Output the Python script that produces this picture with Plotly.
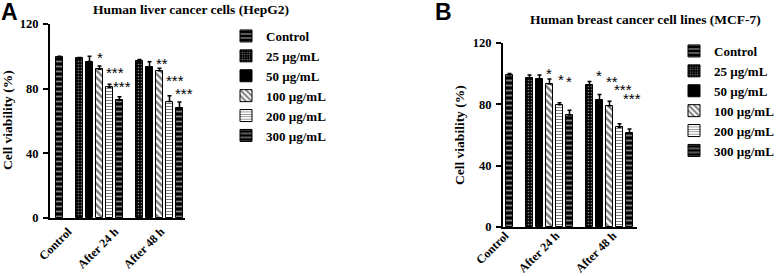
import plotly.graph_objects as go

# ---------------- data ----------------
groups = ["Control", "After 24 h", "After 48 h"]
series = ["Control", "25 µg/mL", "50 µg/mL", "100 µg/mL", "200 µg/mL", "300 µg/mL"]
y_ticks = [0, 40, 80, 120]
# category label anchors (evenly spaced category ticks, in bar-slot units)
label_pos_A = [-1.15, 3.55, 8.15]
label_pos_B = [-2.45, 2.65, 8.35]

# Panel A: HepG2
hepg2_control = 99.3
hepg2_control_err = 0.8
hepg2_24 = [98.7, 96.8, 92.0, 80.8, 73.0]
hepg2_24_err = [0.6, 3.2, 2.0, 2.0, 2.0]
hepg2_48 = [97.0, 93.6, 91.1, 72.0, 68.0]
hepg2_48_err = [1.0, 3.0, 1.5, 3.6, 3.7]
hepg2_stars_24 = ["", "", "*", "***", "***"]
hepg2_stars_24_y = [0, 0, 100.8, 91.5, 82.5]
hepg2_stars_48 = ["", "", "**", "***", "***"]
hepg2_stars_48_y = [0, 0, 97.0, 86.0, 78.0]

# Panel B: MCF-7
mcf7_control = 99.1
mcf7_control_err = 1.0
mcf7_24 = [97.4, 96.4, 93.2, 79.8, 73.0]
mcf7_24_err = [1.8, 2.8, 3.3, 1.3, 3.2]
mcf7_48 = [92.6, 83.0, 79.0, 65.0, 61.5]
mcf7_48_err = [2.3, 3.4, 3.0, 2.4, 2.4]
mcf7_stars_24 = ["", "", "*", "*", "*"]
mcf7_stars_24_y = [0, 0, 101.5, 97.4, 95.9]
mcf7_stars_48 = ["", "*", "**", "***", "***"]
mcf7_stars_48_y = [0, 100.4, 96.5, 90.7, 84.8]

# ---------------- styles ----------------
SERIF = "Liberation Serif"
SANS = "Liberation Sans"
patterns = [
    dict(shape="-", fgcolor="white", bgcolor="black", size=5, solidity=0.35),
    dict(shape=".", fgcolor="white", bgcolor="black", size=3, solidity=0.25),
    None,
    dict(shape="\\", fgcolor="black", bgcolor="white", size=5, solidity=0.5),
    dict(shape="-", fgcolor="black", bgcolor="white", size=3, solidity=0.35),
    dict(shape="-", fgcolor="white", bgcolor="black", size=5, solidity=0.35),
]
bar_colors = ["black", "black", "black", "white", "white", "black"]

W, H = 782, 276
CONTROL_POS = -2
GROUP_START = [0, 6]   # first bar slot of the 24 h and 48 h groups
BAR_W = 0.7


def px_x(p):
    return p / W


def px_y(p):
    return 1 - p / H


fig = go.Figure()


def add_panel(xa, ya, legend, ctrl, ctrl_err, v24, e24, v48, e48):
    fig.add_trace(go.Bar(
        x=[CONTROL_POS], y=[ctrl], width=BAR_W, name=series[0],
        marker=dict(color=bar_colors[0], pattern=patterns[0],
                    line=dict(color="black", width=1)),
        error_y=dict(type="data", symmetric=False, array=[ctrl_err], arrayminus=[0],
                     color="black", thickness=1.5, width=2),
        xaxis=xa, yaxis=ya, legend=legend))
    for i in range(5):
        pos = [GROUP_START[0] + i, GROUP_START[1] + i]
        m = dict(color=bar_colors[i + 1], line=dict(color="black", width=1))
        if patterns[i + 1] is not None:
            m["pattern"] = patterns[i + 1]
        fig.add_trace(go.Bar(
            x=pos, y=[v24[i], v48[i]], width=BAR_W, name=series[i + 1],
            marker=m,
            error_y=dict(type="data", symmetric=False, array=[e24[i], e48[i]],
                         arrayminus=[0, 0], color="black", thickness=1.5, width=2),
            xaxis=xa, yaxis=ya, legend=legend))


add_panel("x", "y", "legend", hepg2_control, hepg2_control_err,
          hepg2_24, hepg2_24_err, hepg2_48, hepg2_48_err)
add_panel("x2", "y2", "legend2", mcf7_control, mcf7_control_err,
          mcf7_24, mcf7_24_err, mcf7_48, mcf7_48_err)

xtickfont = dict(family=SERIF, size=12, color="black", weight="bold")
ytickfont = dict(family=SERIF, size=12.5, color="black", weight="bold")

xcommon = dict(showline=True, linecolor="black", linewidth=2, ticks="",
               tickmode="array", ticktext=groups,
               tickangle=-45, tickfont=xtickfont, showgrid=False, zeroline=False,
               automargin=False)
ycommon = dict(showline=True, linecolor="black", linewidth=2, ticks="outside",
               ticklen=5, tickwidth=2, tickcolor="black", tickmode="array",
               tickvals=y_ticks, range=[0, 120], tickfont=ytickfont,
               ticklabelstandoff=2,
               showgrid=False, zeroline=False, automargin=False)

legfont = dict(family=SERIF, size=13, color="black", weight="bold")
fig.update_layout(
    width=W, height=H, margin=dict(l=0, r=0, t=0, b=0, autoexpand=False),
    paper_bgcolor="white", plot_bgcolor="white",
    barmode="overlay", bargap=0,
    xaxis=dict(domain=[px_x(50), px_x(185)], range=[-2.95, 10.55], anchor="y",
               tickvals=label_pos_A, ticklabelstandoff=0, **xcommon),
    yaxis=dict(domain=[px_y(218), px_y(24)], anchor="x", **ycommon),
    xaxis2=dict(domain=[px_x(503), px_x(637)], range=[-2.65, 10.75], anchor="y2",
                tickvals=label_pos_B, ticklabelstandoff=-5, **xcommon),
    yaxis2=dict(domain=[px_y(227), px_y(43)], anchor="x2", **ycommon),
    legend=dict(x=px_x(226), y=px_y(21), xanchor="left", yanchor="top",
                font=legfont, bgcolor="rgba(0,0,0,0)", entrywidth=100),
    legend2=dict(x=px_x(674), y=px_y(36), xanchor="left", yanchor="top",
                 font=legfont, bgcolor="rgba(0,0,0,0)", entrywidth=100),
    showlegend=True,
)

ann = []
ann.append(dict(text="A", x=0, y=1, xref="paper", yref="paper", xanchor="left", yanchor="top",
                showarrow=False, font=dict(family=SANS, size=23, color="black", weight="bold"),
                xshift=-1, yshift=3))
ann.append(dict(text="B", x=px_x(433), y=1, xref="paper", yref="paper", xanchor="left",
                yanchor="top", showarrow=False, yshift=3,
                font=dict(family=SANS, size=23, color="black", weight="bold")))
ann.append(dict(text="Human liver cancer cells (HepG2)", x=px_x(191), y=px_y(9),
                xref="paper", yref="paper", showarrow=False, xanchor="center", yanchor="middle",
                font=dict(family=SERIF, size=13.5, color="black", weight="bold")))
ann.append(dict(text="Human breast cancer cell lines (MCF-7)", x=px_x(645), y=px_y(20),
                xref="paper", yref="paper", showarrow=False, xanchor="center", yanchor="middle",
                font=dict(family=SERIF, size=13.5, color="black", weight="bold")))
ann.append(dict(text="Cell viability (%)", x=px_x(8), y=px_y(120), xref="paper", yref="paper",
                textangle=-90, showarrow=False, xanchor="center", yanchor="middle",
                font=dict(family=SERIF, size=13.5, color="black", weight="bold")))
ann.append(dict(text="Cell viability (%)", x=px_x(459), y=px_y(135), xref="paper", yref="paper",
                textangle=-90, showarrow=False, xanchor="center", yanchor="middle",
                font=dict(family=SERIF, size=13.5, color="black", weight="bold")))


def add_stars(xr, yr, labels, ys, start, shifts):
    for i, (s, yv) in enumerate(zip(labels, ys)):
        if s:
            ann.append(dict(text=s, x=start + i + shifts[i], y=yv, xref=xr, yref=yr,
                            showarrow=False, yshift=-2, xanchor="center", yanchor="middle",
                            font=dict(family=SANS, size=15, color="black")))


add_stars("x", "y", hepg2_stars_24, hepg2_stars_24_y, GROUP_START[0], [0, 0, 0, 0.5, 0.2])
add_stars("x", "y", hepg2_stars_48, hepg2_stars_48_y, GROUP_START[1], [0, 0, 0.25, 0.5, 0.4])
add_stars("x2", "y2", mcf7_stars_24, mcf7_stars_24_y, GROUP_START[0], [0, 0, -0.1, 0.1, -0.05])
add_stars("x2", "y2", mcf7_stars_48, mcf7_stars_48_y, GROUP_START[1], [0, -0.05, 0.2, 0.35, 0.25])

fig.update_layout(annotations=ann)
fig.write_html("out.html", config={"displayModeBar": False},
               post_script="document.body.style.margin='0px';document.body.style.overflow='hidden';")
